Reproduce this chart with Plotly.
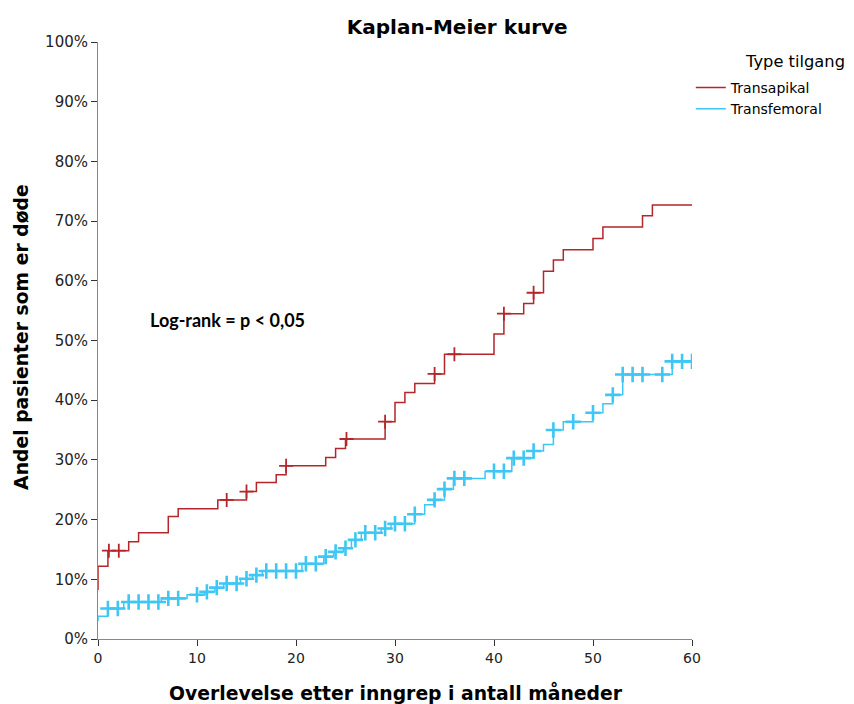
import plotly.graph_objects as go

# Transapikal (red) step curve: time (months) and cumulative proportion dead (%)
red_t = [0, 0, 1.0, 3.1, 4.1, 7.1, 8.1, 12.1, 15.0, 16.0, 18.0, 19.0, 23.0, 24.0, 25.0,
         29.0, 30.0, 31.0, 32.0, 34.0, 35.0, 40.0, 41.0, 43.0, 44.0, 45.0, 46.0, 47.0,
         50.0, 51.0, 55.0, 56.0, 60.0]
red_y = [8.2, 12.2, 14.8, 16.3, 17.8, 20.5, 21.8, 23.3, 24.7, 26.2, 27.5, 29.0, 30.4, 31.9, 33.5,
         36.4, 39.6, 41.3, 42.8, 44.4, 47.7, 51.1, 54.5, 56.2, 58.0, 61.6, 63.5, 65.2,
         67.1, 69.0, 70.9, 72.7, 72.7]
red_cens_t = [1.1, 2.1, 13.0, 15.0, 19.0, 25.1, 29.0, 34.0, 36.0, 41.0, 44.0]
red_cens_y = [14.8, 14.8, 23.3, 24.7, 29.0, 33.5, 36.4, 44.4, 47.7, 54.5, 58.0]

# Transfemoral (blue) step curve
blue_t = [0, 0, 1.0, 2.6, 6.4, 9.0, 10.8, 11.8, 12.7, 14.4, 15.6, 16.6, 20.6, 22.8, 23.8,
          24.8, 25.6, 26.6, 28.6, 29.6, 32.0, 33.0, 33.9, 35.0, 35.9, 39.1, 41.8, 44.0,
          45.0, 46.0, 47.0, 50.0, 51.0, 52.0, 53.0, 58.0, 60.0]
blue_y = [3.0, 3.8, 5.1, 6.2, 6.8, 7.4, 7.9, 8.6, 9.3, 10.1, 10.7, 11.4, 12.6, 13.8, 14.6,
          15.2, 16.6, 17.8, 18.5, 19.3, 20.9, 22.5, 23.3, 25.1, 26.9, 28.1, 30.3, 31.5,
          32.6, 35.0, 36.4, 37.9, 39.4, 40.9, 44.3, 46.5, 46.5]
blue_cens_t = [1.0, 2.0, 3.1, 4.1, 5.1, 6.1, 7.1, 8.1, 10.0, 11.0, 12.0, 13.0, 14.0, 15.0, 16.0,
               17.0, 18.0, 19.0, 20.0, 21.0, 22.0, 23.0, 24.0, 25.0, 26.0, 27.0, 28.0, 29.0,
               30.0, 31.0, 32.0, 34.0, 35.0, 36.0, 37.0, 40.0, 41.0, 42.0, 43.0, 44.0, 46.0,
               48.0, 50.0, 52.0, 53.0, 54.0, 55.0, 57.0, 58.0, 59.0, 60.0]
blue_cens_y = [5.1, 5.1, 6.2, 6.2, 6.2, 6.2, 6.8, 6.8, 7.4, 7.9, 8.6, 9.3, 9.3, 10.1, 10.7,
               11.4, 11.4, 11.4, 11.4, 12.6, 12.6, 13.8, 14.6, 15.2, 16.6, 17.8, 17.8, 18.5,
               19.3, 19.3, 20.9, 23.3, 25.1, 26.9, 26.9, 28.1, 28.1, 30.3, 30.3, 31.5, 35.0,
               36.4, 37.9, 40.9, 44.3, 44.3, 44.3, 44.3, 46.5, 46.5, 46.5]

x_ticks = [0, 10, 20, 30, 40, 50, 60]
y_ticks = [0, 10, 20, 30, 40, 50, 60, 70, 80, 90, 100]
y_ticklabels = [f"{v}%" for v in y_ticks]

RED = "#b3262b"
BLUE = "#3ec6f4"

fig = go.Figure()
fig.add_trace(go.Scatter(x=red_t, y=red_y, mode="lines", line=dict(shape="hv", color=RED, width=1.5),
                         name="Transapikal"))
fig.add_trace(go.Scatter(x=blue_t, y=blue_y, mode="lines", line=dict(shape="hv", color=BLUE, width=1.5),
                         name="Transfemoral"))
fig.add_trace(go.Scatter(x=red_cens_t, y=red_cens_y, mode="markers", showlegend=False,
                         marker=dict(symbol="cross-thin", size=10, line=dict(color=RED, width=1.8))))
fig.add_trace(go.Scatter(x=blue_cens_t, y=blue_cens_y, mode="markers", showlegend=False,
                         marker=dict(symbol="cross-thin", size=11, line=dict(color=BLUE, width=2.6))))

fig.add_annotation(x=13.1, y=53.4, xref="x", yref="y", text="<b>Log-rank = p < 0,05</b>",
                   xanchor="center", yanchor="middle",
                   showarrow=False, font=dict(family="Lato", size=18, color="#000"))
fig.add_annotation(x=1.173, y=0.9665, xref="paper", yref="paper", text="Type tilgang",
                   xanchor="center", yanchor="middle",
                   showarrow=False, font=dict(family="DejaVu Sans", size=16.3, color="#000"))
fig.add_annotation(x=0.502, y=-0.0888, xref="paper", yref="paper",
                   text="<b>Overlevelse etter inngrep i antall måneder</b>",
                   xanchor="center", yanchor="middle",
                   showarrow=False, font=dict(family="DejaVu Sans", size=18.8, color="#000"))
fig.add_annotation(x=-0.128, y=0.506, xref="paper", yref="paper", textangle=-90,
                   text="<b>Andel pasienter som er døde</b>",
                   xanchor="center", yanchor="middle",
                   showarrow=False, font=dict(family="DejaVu Sans", size=18.8, color="#000"))

fig.update_layout(
    width=846, height=696,
    margin=dict(l=90, r=162, t=34, b=65, autoexpand=False),
    paper_bgcolor="white", plot_bgcolor="white",
    title=dict(text="<b>Kaplan-Meier kurve</b>", x=0.531, xanchor="center", y=0.973, yanchor="middle",
               font=dict(family="DejaVu Sans", size=20, color="#000")),
    legend=dict(x=0.998, xanchor="left", y=0.95, yanchor="top", bgcolor="rgba(0,0,0,0)",
                font=dict(family="DejaVu Sans", size=14, color="#000"), tracegroupgap=0),
    showlegend=True,
)
fig.update_xaxes(range=[0, 60], tickvals=x_ticks, ticks="outside", ticklen=6, tickcolor="#333",
                 showline=True, linecolor="#888", linewidth=1, showgrid=False, zeroline=False,
                 automargin=False,
                 tickfont=dict(family="DejaVu Sans", size=14, color="#222"))
fig.update_yaxes(range=[0, 100], tickvals=y_ticks, ticktext=y_ticklabels, ticks="outside", ticklen=6,
                 tickcolor="#333", showline=True, linecolor="#888", linewidth=1, showgrid=False,
                 zeroline=False, automargin=False,
                 tickfont=dict(family="DejaVu Sans", size=15, color="#222"))

fig.write_html("out.html")
